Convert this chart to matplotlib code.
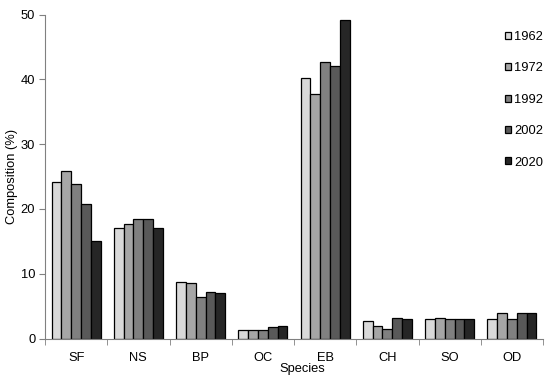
import matplotlib
matplotlib.use("Agg")
import matplotlib.pyplot as plt
import numpy as np

plt.rcParams['font.family'] = ['Liberation Sans', 'DejaVu Sans']

species = ["SF", "NS", "BP", "OC", "EB", "CH", "SO", "OD"]
years = ["1962", "1972", "1992", "2002", "2020"]
v1962 = [24.2, 17.1, 8.7, 1.3, 40.2, 2.7, 3.0, 3.0]
v1972 = [25.8, 17.7, 8.5, 1.3, 37.7, 2.0, 3.1, 4.0]
v1992 = [23.9, 18.5, 6.4, 1.3, 42.6, 1.5, 3.0, 3.0]
v2002 = [20.8, 18.4, 7.1, 1.7, 42.0, 3.1, 3.0, 3.9]
v2020 = [15.0, 17.0, 7.0, 2.0, 49.1, 3.0, 3.0, 4.0]
series = [v1962, v1972, v1992, v2002, v2020]
colors = ["#d9d9d9", "#a6a6a6", "#808080", "#595959", "#262626"]

FS = 9.3
fig = plt.figure(figsize=(5.5, 3.8), dpi=100)
ax = fig.add_axes([45/550, 1-338.5/380, 498/550, 324/380])

x = np.arange(len(species))
w = 0.157
for i, (vals, c, yr) in enumerate(zip(series, colors, years)):
    ax.bar(x + (i - 2) * w, vals, width=w, color=c, edgecolor="black",
           linewidth=0.9, label=yr)

ax.set_xlim(-0.5, 7.5)
ax.set_ylim(0, 50)
ax.set_yticks([0, 10, 20, 30, 40, 50])
ax.set_xticks(x)
ax.set_xticklabels(species, fontsize=FS)
ax.tick_params(axis='x', which='major', length=0, pad=10)
ax.set_xticks(np.arange(-0.5, 8.0, 1.0), minor=True)
ax.tick_params(axis='x', which='minor', length=4, color="#808080", direction='out')
ax.tick_params(axis='y', labelsize=FS, length=4, color="#808080", pad=3)
for s in ["top", "right"]:
    ax.spines[s].set_visible(False)
for s in ["left", "bottom"]:
    ax.spines[s].set_color("#808080")
    ax.spines[s].set_linewidth(0.8)

ax.set_ylabel("Composition (%)", fontsize=FS, labelpad=2)
ax.set_xlabel("Species", fontsize=FS, labelpad=-1)
ax.xaxis.label.set_x((302 - 45) / 498)

leg = ax.legend(loc="upper left", bbox_to_anchor=(505/550, 1-31/380),
                bbox_transform=fig.transFigure, frameon=False, fontsize=FS,
                handlelength=0.45, handleheight=0.45, handletextpad=0.25,
                labelspacing=1.5, borderpad=0, borderaxespad=0)

fig.savefig("out.png", dpi=100)
